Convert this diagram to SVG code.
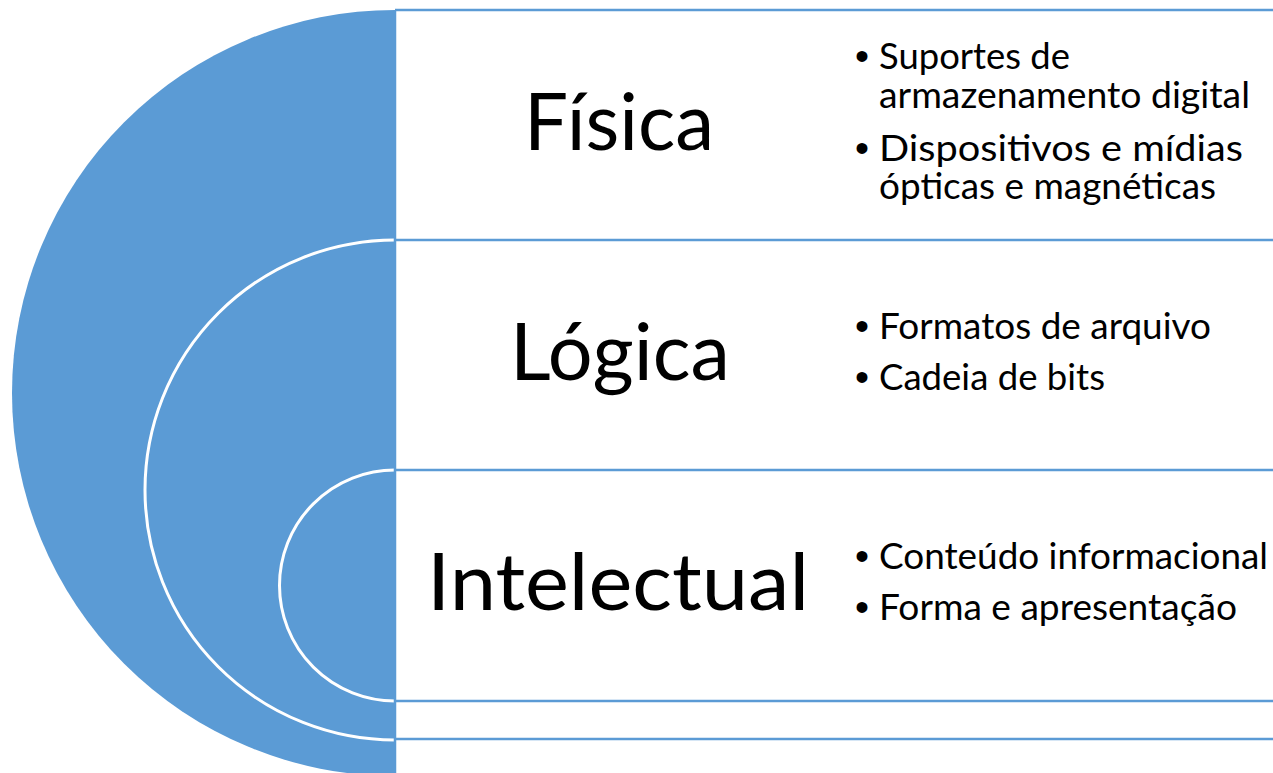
<svg xmlns="http://www.w3.org/2000/svg" width="1273" height="773" viewBox="0 0 1273 773">
<style>
.bg{fill:#ffffff}
.arc{fill:#5B9BD5}
.warc{fill:none;stroke:#ffffff;stroke-width:3}
.edge{fill:none;stroke:#5B9BD5;stroke-width:2.5}
.title{font-family:Lato,"Open Sans","Liberation Sans",sans-serif;font-size:79px;fill:#000;text-anchor:middle}
.item{font-family:Lato,"Open Sans","Liberation Sans",sans-serif;font-size:36px;fill:#000}
.bul{font-family:"Liberation Sans",sans-serif;font-size:40px;fill:#000}
</style>
<rect class="bg" x="0" y="0" width="1273" height="773"/>
<g id="shapes">
<path class="arc" d="M395,10 A383,383 0 0 0 395,776 Z"/>
<path class="warc" d="M395,240 A250,250 0 0 0 395,740"/>
<path class="warc" d="M395,470 A115.5,115.5 0 0 0 395,701"/>
</g>
<g id="connectors">
<line class="edge" x1="395" y1="10" x2="395" y2="773"/>
<line class="edge" x1="395" y1="10" x2="1273" y2="10"/>
<line class="edge" x1="395" y1="240" x2="1273" y2="240"/>
<line class="edge" x1="395" y1="470" x2="1273" y2="470"/>
<line class="edge" x1="395" y1="701" x2="1273" y2="701"/>
<line class="edge" x1="395" y1="739" x2="1273" y2="739"/>
</g>
<g id="node-fisica">
<text class="title" x="619" y="150" textLength="190" lengthAdjust="spacingAndGlyphs">Física</text>
<text class="bul" x="855" y="70">•</text>
<text class="item"><tspan x="879" y="69" textLength="191" lengthAdjust="spacingAndGlyphs">Suportes de</tspan><tspan x="879" y="108" textLength="371" lengthAdjust="spacingAndGlyphs">armazenamento digital</tspan></text>
<text class="bul" x="855" y="162">•</text>
<text class="item"><tspan x="879" y="161" textLength="364" lengthAdjust="spacingAndGlyphs">Dispositivos e mídias</tspan><tspan x="879" y="199" textLength="337" lengthAdjust="spacingAndGlyphs">ópticas e magnéticas</tspan></text>
</g>
<g id="node-logica">
<text class="title" x="620" y="380" textLength="220" lengthAdjust="spacingAndGlyphs">Lógica</text>
<text class="bul" x="855" y="340">•</text>
<text class="item" x="879" y="339" textLength="332" lengthAdjust="spacingAndGlyphs">Formatos de arquivo</text>
<text class="bul" x="855" y="391">•</text>
<text class="item" x="879" y="390" textLength="226" lengthAdjust="spacingAndGlyphs">Cadeia de bits</text>
</g>
<g id="node-intelectual">
<text class="title" x="618" y="610" textLength="382" lengthAdjust="spacingAndGlyphs">Intelectual</text>
<text class="bul" x="855" y="570">•</text>
<text class="item" x="879" y="569" textLength="389" lengthAdjust="spacingAndGlyphs">Conteúdo informacional</text>
<text class="bul" x="855" y="621">•</text>
<text class="item" x="879" y="620" textLength="358" lengthAdjust="spacingAndGlyphs">Forma e apresentação</text>
</g>
</svg>
